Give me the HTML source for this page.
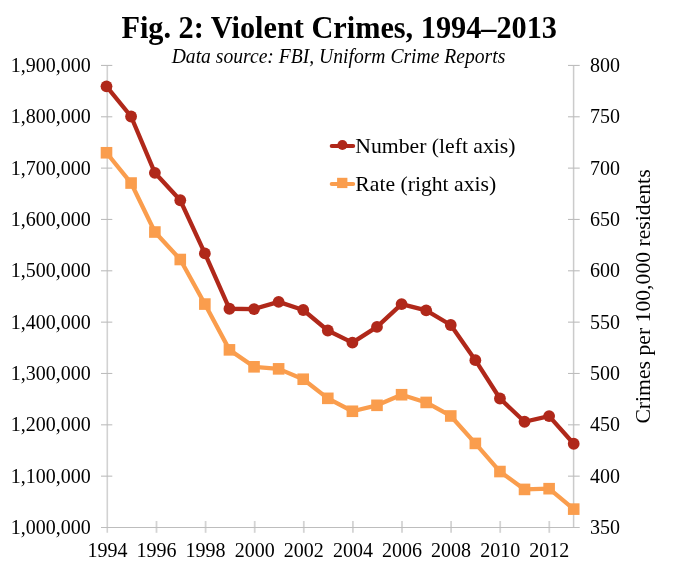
<!DOCTYPE html><html><head><meta charset="utf-8"><style>
html,body{margin:0;padding:0;background:#fff;}
svg{display:block;}
text{font-family:"Liberation Serif",serif;fill:#000;filter:grayscale(1);}
</style></head><body>
<svg width="673" height="572" viewBox="0 0 673 572">
<rect width="673" height="572" fill="#fff"/>
<text transform="translate(339.2,37.6) scale(0.9466,1)" x="0" y="0" text-anchor="middle" font-size="32" font-weight="bold">Fig. 2: Violent Crimes, 1994–2013</text>
<text transform="translate(338.5,62.7) scale(0.981,1)" x="0" y="0" text-anchor="middle" font-size="20" font-style="italic">Data source: FBI, Uniform Crime Reports</text>
<line x1="107.3" y1="65.44" x2="107.3" y2="532.80" stroke="#d2d2d2" stroke-width="1.6"/>
<line x1="573.60" y1="65.44" x2="573.60" y2="527.50" stroke="#cbcbcb" stroke-width="1.5"/>
<g stroke="#d4d4d4" stroke-width="1.8" fill="none"><line x1="156.50" y1="521.00" x2="156.50" y2="532.80" /><line x1="205.60" y1="521.00" x2="205.60" y2="532.80" /><line x1="254.70" y1="521.00" x2="254.70" y2="532.80" /><line x1="303.80" y1="521.00" x2="303.80" y2="532.80" /><line x1="352.90" y1="521.00" x2="352.90" y2="532.80" /><line x1="402.00" y1="521.00" x2="402.00" y2="532.80" /><line x1="451.10" y1="521.00" x2="451.10" y2="532.80" /><line x1="500.20" y1="521.00" x2="500.20" y2="532.80" /><line x1="549.30" y1="521.00" x2="549.30" y2="532.80" /></g>
<g stroke="#bdbdbd" stroke-width="1.1" fill="none"><line x1="101.0" y1="527.5" x2="579.70" y2="527.5" /><line x1="101.0" y1="476.16" x2="112.3" y2="476.16" /><line x1="568.00" y1="476.16" x2="579.70" y2="476.16" /><line x1="101.0" y1="424.82" x2="112.3" y2="424.82" /><line x1="568.00" y1="424.82" x2="579.70" y2="424.82" /><line x1="101.0" y1="373.48" x2="112.3" y2="373.48" /><line x1="568.00" y1="373.48" x2="579.70" y2="373.48" /><line x1="101.0" y1="322.14" x2="112.3" y2="322.14" /><line x1="568.00" y1="322.14" x2="579.70" y2="322.14" /><line x1="101.0" y1="270.80" x2="112.3" y2="270.80" /><line x1="568.00" y1="270.80" x2="579.70" y2="270.80" /><line x1="101.0" y1="219.46" x2="112.3" y2="219.46" /><line x1="568.00" y1="219.46" x2="579.70" y2="219.46" /><line x1="101.0" y1="168.12" x2="112.3" y2="168.12" /><line x1="568.00" y1="168.12" x2="579.70" y2="168.12" /><line x1="101.0" y1="116.78" x2="112.3" y2="116.78" /><line x1="568.00" y1="116.78" x2="579.70" y2="116.78" /><line x1="101.0" y1="65.44" x2="112.3" y2="65.44" /><line x1="568.00" y1="65.44" x2="579.70" y2="65.44" /></g>
<text x="90.8" y="534.00" text-anchor="end" font-size="20">1,000,000</text>
<text x="590" y="534.00" font-size="20">350</text>
<text x="90.8" y="482.66" text-anchor="end" font-size="20">1,100,000</text>
<text x="590" y="482.66" font-size="20">400</text>
<text x="90.8" y="431.32" text-anchor="end" font-size="20">1,200,000</text>
<text x="590" y="431.32" font-size="20">450</text>
<text x="90.8" y="379.98" text-anchor="end" font-size="20">1,300,000</text>
<text x="590" y="379.98" font-size="20">500</text>
<text x="90.8" y="328.64" text-anchor="end" font-size="20">1,400,000</text>
<text x="590" y="328.64" font-size="20">550</text>
<text x="90.8" y="277.30" text-anchor="end" font-size="20">1,500,000</text>
<text x="590" y="277.30" font-size="20">600</text>
<text x="90.8" y="225.96" text-anchor="end" font-size="20">1,600,000</text>
<text x="590" y="225.96" font-size="20">650</text>
<text x="90.8" y="174.62" text-anchor="end" font-size="20">1,700,000</text>
<text x="590" y="174.62" font-size="20">700</text>
<text x="90.8" y="123.28" text-anchor="end" font-size="20">1,800,000</text>
<text x="590" y="123.28" font-size="20">750</text>
<text x="90.8" y="71.94" text-anchor="end" font-size="20">1,900,000</text>
<text x="590" y="71.94" font-size="20">800</text>
<text x="107.40" y="557" text-anchor="middle" font-size="20">1994</text>
<text x="156.50" y="557" text-anchor="middle" font-size="20">1996</text>
<text x="205.60" y="557" text-anchor="middle" font-size="20">1998</text>
<text x="254.70" y="557" text-anchor="middle" font-size="20">2000</text>
<text x="303.80" y="557" text-anchor="middle" font-size="20">2002</text>
<text x="352.90" y="557" text-anchor="middle" font-size="20">2004</text>
<text x="402.00" y="557" text-anchor="middle" font-size="20">2006</text>
<text x="451.10" y="557" text-anchor="middle" font-size="20">2008</text>
<text x="500.20" y="557" text-anchor="middle" font-size="20">2010</text>
<text x="549.30" y="557" text-anchor="middle" font-size="20">2012</text>
<text transform="translate(649.8,296.5) rotate(-90)" text-anchor="middle" font-size="21.7">Crimes per 100,000 residents</text>
<polyline points="106.50,152.76 131.09,183.04 154.88,232.02 180.27,259.51 204.86,304.07 229.45,349.86 254.04,366.81 278.63,368.86 303.22,379.23 327.81,398.33 352.40,411.27 376.99,405.31 401.58,394.73 426.17,402.44 450.76,415.99 475.35,443.41 499.94,471.54 524.53,489.41 549.12,488.69 573.71,509.12" fill="none" stroke="#FA9D4D" stroke-width="4.3" stroke-linejoin="round"/>
<rect x="100.70" y="146.96" width="11.6" height="11.6" fill="#FA9D4D"/>
<rect x="125.29" y="177.24" width="11.6" height="11.6" fill="#FA9D4D"/>
<rect x="149.08" y="226.22" width="11.6" height="11.6" fill="#FA9D4D"/>
<rect x="174.47" y="253.71" width="11.6" height="11.6" fill="#FA9D4D"/>
<rect x="199.06" y="298.27" width="11.6" height="11.6" fill="#FA9D4D"/>
<rect x="223.65" y="344.06" width="11.6" height="11.6" fill="#FA9D4D"/>
<rect x="248.24" y="361.01" width="11.6" height="11.6" fill="#FA9D4D"/>
<rect x="272.83" y="363.06" width="11.6" height="11.6" fill="#FA9D4D"/>
<rect x="297.42" y="373.43" width="11.6" height="11.6" fill="#FA9D4D"/>
<rect x="322.01" y="392.53" width="11.6" height="11.6" fill="#FA9D4D"/>
<rect x="346.60" y="405.47" width="11.6" height="11.6" fill="#FA9D4D"/>
<rect x="371.19" y="399.51" width="11.6" height="11.6" fill="#FA9D4D"/>
<rect x="395.78" y="388.93" width="11.6" height="11.6" fill="#FA9D4D"/>
<rect x="420.37" y="396.64" width="11.6" height="11.6" fill="#FA9D4D"/>
<rect x="444.96" y="410.19" width="11.6" height="11.6" fill="#FA9D4D"/>
<rect x="469.55" y="437.61" width="11.6" height="11.6" fill="#FA9D4D"/>
<rect x="494.14" y="465.74" width="11.6" height="11.6" fill="#FA9D4D"/>
<rect x="518.73" y="483.61" width="11.6" height="11.6" fill="#FA9D4D"/>
<rect x="543.32" y="482.89" width="11.6" height="11.6" fill="#FA9D4D"/>
<rect x="567.91" y="503.32" width="11.6" height="11.6" fill="#FA9D4D"/>
<polyline points="106.50,86.37 131.09,116.50 154.88,172.80 180.27,200.23 204.86,253.40 229.45,308.77 254.04,309.06 278.63,301.87 303.22,309.98 327.81,330.52 352.40,342.63 376.99,326.89 401.58,304.11 426.17,310.35 450.76,324.98 475.35,360.18 499.94,398.51 524.53,421.74 549.12,416.06 573.71,443.74" fill="none" stroke="#B0281A" stroke-width="4.3" stroke-linejoin="round"/>
<circle cx="106.50" cy="86.37" r="5.9" fill="#B0281A"/>
<circle cx="131.09" cy="116.50" r="5.9" fill="#B0281A"/>
<circle cx="154.88" cy="172.80" r="5.9" fill="#B0281A"/>
<circle cx="180.27" cy="200.23" r="5.9" fill="#B0281A"/>
<circle cx="204.86" cy="253.40" r="5.9" fill="#B0281A"/>
<circle cx="229.45" cy="308.77" r="5.9" fill="#B0281A"/>
<circle cx="254.04" cy="309.06" r="5.9" fill="#B0281A"/>
<circle cx="278.63" cy="301.87" r="5.9" fill="#B0281A"/>
<circle cx="303.22" cy="309.98" r="5.9" fill="#B0281A"/>
<circle cx="327.81" cy="330.52" r="5.9" fill="#B0281A"/>
<circle cx="352.40" cy="342.63" r="5.9" fill="#B0281A"/>
<circle cx="376.99" cy="326.89" r="5.9" fill="#B0281A"/>
<circle cx="401.58" cy="304.11" r="5.9" fill="#B0281A"/>
<circle cx="426.17" cy="310.35" r="5.9" fill="#B0281A"/>
<circle cx="450.76" cy="324.98" r="5.9" fill="#B0281A"/>
<circle cx="475.35" cy="360.18" r="5.9" fill="#B0281A"/>
<circle cx="499.94" cy="398.51" r="5.9" fill="#B0281A"/>
<circle cx="524.53" cy="421.74" r="5.9" fill="#B0281A"/>
<circle cx="549.12" cy="416.06" r="5.9" fill="#B0281A"/>
<circle cx="573.71" cy="443.74" r="5.9" fill="#B0281A"/>
<line x1="331.7" y1="146" x2="353.2" y2="146" stroke="#B0281A" stroke-width="4" stroke-linecap="round"/>
<circle cx="342.4" cy="145" r="5" fill="#B0281A"/>
<text x="355.3" y="153" font-size="21.7">Number (left axis)</text>
<line x1="331.7" y1="184" x2="353.2" y2="184" stroke="#FA9D4D" stroke-width="4" stroke-linecap="round"/>
<rect x="337.1" y="177.8" width="10.3" height="10.3" fill="#FA9D4D"/>
<text x="355.3" y="190.5" font-size="21.7">Rate (right axis)</text>
</svg></body></html>
